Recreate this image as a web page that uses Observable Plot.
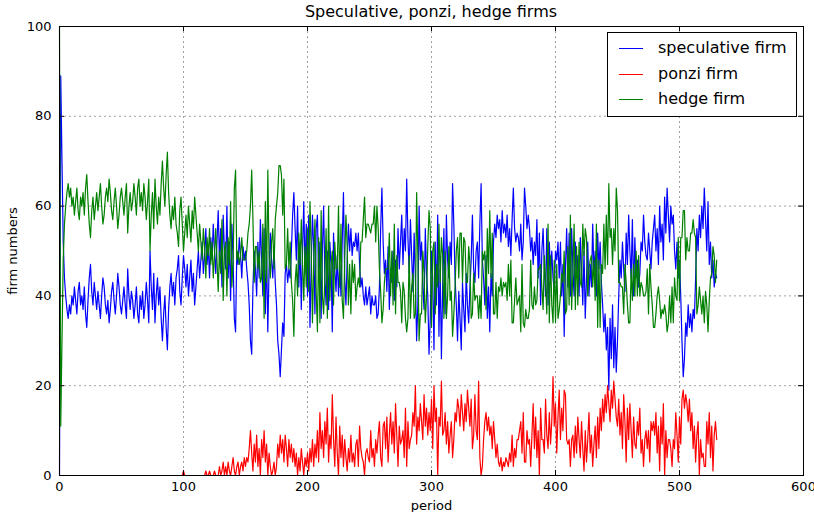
<!DOCTYPE html>
<html><head><meta charset="utf-8">
<script src="https://cdn.jsdelivr.net/npm/d3@7"></script>
<script src="https://cdn.jsdelivr.net/npm/@observablehq/plot@0.6"></script>
<style>
body{margin:0;background:#fff;font-family:"DejaVu Sans",sans-serif;}
#wrap{position:relative;width:814px;height:512px;overflow:hidden;}
#wrap svg{position:absolute;left:0;top:0;}
#title{position:absolute;left:59px;width:744px;top:2px;text-align:center;font-size:16px;line-height:20px;color:#000;}
#legend{position:absolute;left:607px;top:32px;width:188px;height:83px;border:1px solid #000;background:#fff;}
.row{position:absolute;left:0;height:20px;width:188px;}
.row .ln{position:absolute;left:11px;width:24px;top:10px;height:0;border-top:1.2px solid;}
.row .tx{position:absolute;left:50px;top:0;line-height:20px;font-size:16px;color:#000;white-space:nowrap;}
</style>
</head><body>
<div id="wrap">
<div id="title"></div>
<div id="legend"></div>
</div>
<script>
const titleText = "Speculative, ponzi, hedge firms";
const xLabel = "period";
const yLabel = "firm numbers";
const seriesNames = ["speculative firm", "ponzi firm", "hedge firm"];
const seriesColors = ["#0000ff", "#ff0000", "#008000"];
const xTicks = [0, 100, 200, 300, 400, 500, 600];
const yTicks = [0, 20, 40, 60, 80, 100];

const speculative = [
0,89,70,52,44,40,37,35,38,36,
40,38,42,39,36,41,43,38,40,37,
42,36,33,39,44,47,41,38,43,40,
37,41,38,35,40,44,42,38,36,39,
34,37,41,43,39,36,40,45,42,38,
36,39,42,38,35,46,40,37,41,39,
35,38,42,36,34,40,37,41,35,38,
43,39,34,50,42,37,45,34,40,44,
38,42,35,30,36,40,33,28,37,42,
45,40,43,38,44,46,49,41,38,44,
49,46,42,47,40,44,48,41,45,38,
42,46,50,44,48,52,45,49,55,47,
51,44,53,48,56,50,45,52,59,48,
55,42,58,50,46,60,44,52,39,56,
48,35,32,50,47,53,49,44,51,48,
50,46,43,38,30,27,42,50,46,40,
52,44,57,48,40,55,36,50,32,46,
54,48,44,51,43,38,30,27,22,28,
34,31,45,47,43,46,44,50,58,63,
55,48,60,42,52,37,50,61,45,56,
40,58,33,47,58,51,36,55,58,44,
52,35,50,60,44,38,50,37,52,47,
32,54,46,41,49,40,47,40,52,63,
44,38,48,56,50,55,49,52,51,54,
50,54,47,42,44,40,38,42,38,40,
42,36,40,38,38,40,35,36,42,55,
64,52,45,48,41,51,37,46,43,50,
39,48,42,55,46,52,58,47,55,50,
66,53,45,57,49,41,54,44,30,38,
60,48,52,42,37,55,45,40,27,35,
50,44,28,52,38,58,31,46,26,42,
55,36,58,48,44,52,47,65,56,44,
38,30,41,35,28,43,37,32,45,38,
34,42,48,58,46,43,50,52,44,56,
65,48,44,38,49,35,42,32,45,40,
52,56,53,58,55,57,52,59,54,56,
53,58,51,55,49,57,64,55,52,54,
53,50,56,48,52,64,60,55,58,55,
50,53,47,52,49,57,44,54,38,50,
55,46,40,55,38,52,44,50,44,41,
50,48,52,44,52,40,47,31,46,55,
42,54,40,55,46,40,52,44,49,40,
53,46,38,50,35,44,52,40,47,42,
56,45,50,40,54,46,52,43,38,32,
36,28,33,19,35,26,38,24,33,23,
30,40,48,44,52,46,41,54,47,58,
50,44,57,40,53,44,48,42,45,52,
50,58,52,49,48,54,50,46,52,55,
58,50,55,47,60,52,56,48,62,54,
64,58,52,60,56,58,50,46,52,44,
48,40,30,22,26,34,31,38,33,36,
32,37,35,44,55,50,58,53,60,55,
64,57,50,61,47,52,44,48,42,45,
44];

const ponzi = [
0,0,0,0,0,0,0,0,0,0,
0,0,0,0,0,0,0,0,0,0,
0,0,0,0,0,0,0,0,0,0,
0,0,0,0,0,0,0,0,0,0,
0,0,0,0,0,0,0,0,0,0,
0,0,0,0,0,0,0,0,0,0,
0,0,0,0,0,0,0,0,0,0,
0,0,0,0,0,0,0,0,0,0,
0,0,0,0,0,0,0,0,0,0,
0,0,0,0,0,0,0,0,0,0,
1,0,0,0,0,0,0,0,0,0,
0,0,0,0,0,0,0,0,1,0,
0,1,0,0,0,1,0,0,0,2,
0,1,3,0,2,0,3,1,0,2,
4,1,0,2,3,0,2,3,1,4,
2,4,3,6,10,5,1,7,3,9,
2,6,0,8,4,10,3,7,0,5,
2,0,1,3,0,2,7,4,9,5,
8,3,9,6,2,8,4,7,3,6,
2,5,0,4,1,6,3,0,4,2,
5,1,6,3,8,2,7,4,10,3,
14,6,10,4,12,7,15,3,9,6,
18,8,2,13,5,0,11,4,9,2,
8,4,1,6,3,9,3,5,2,7,
8,2,11,6,4,3,0,5,6,4,
3,10,4,6,2,8,5,9,12,4,
2,11,12,6,13,3,9,14,7,12,
5,16,9,2,11,7,8,10,4,15,
2,12,6,8,9,14,11,20,7,13,
10,16,12,8,18,11,15,9,14,10,
17,6,20,12,15,0,13,11,21,9,
10,14,7,12,5,9,12,4,8,14,
12,17,15,11,18,14,10,16,12,19,
15,11,17,6,9,18,10,8,21,4,
0,2,8,12,14,10,13,9,11,6,
12,8,4,7,3,2,4,1,3,2,
4,3,2,5,3,9,2,6,4,8,
8,10,12,5,14,3,3,10,7,8,
2,9,16,6,13,4,10,0,15,8,
8,5,17,9,6,14,7,12,22,11,
16,5,13,19,8,15,10,19,18,8,
7,8,2,8,9,4,11,5,13,8,
4,12,6,1,10,3,8,14,5,9,
2,7,11,4,13,6,15,10,17,12,
18,14,20,16,12,19,15,21,17,13,
11,17,9,14,6,18,12,3,15,8,
16,10,4,13,7,6,12,9,15,5,
8,2,8,10,6,10,3,12,10,12,
9,14,5,11,1,13,7,16,0,10,
4,8,8,6,2,8,6,14,9,3,
13,7,17,19,15,18,16,12,17,10,
14,6,11,3,9,12,0,8,4,5,
2,2,12,7,14,4,11,1,9,12,
8];

const hedge = [
100,11,30,48,56,60,63,65,62,64,
60,62,58,61,64,59,57,62,60,63,
58,64,67,61,56,53,59,62,57,60,
63,59,62,65,60,56,58,62,64,61,
66,63,59,57,61,64,60,55,58,62,
64,61,58,62,65,54,60,63,59,61,
65,62,58,64,66,60,63,59,65,62,
57,61,66,50,58,63,55,66,60,56,
62,58,65,70,64,60,67,72,63,58,
55,60,57,62,56,54,51,59,62,56,
50,54,58,53,60,56,52,59,55,62,
58,54,50,56,52,48,55,51,44,53,
49,55,47,52,44,49,55,48,41,50,
45,57,39,50,52,40,53,47,61,42,
48,64,68,48,50,47,49,53,48,48,
48,50,54,56,60,68,57,43,51,51,
46,50,43,44,56,35,61,43,68,49,
44,52,55,46,57,60,63,69,69,67,
58,66,46,47,55,46,52,43,39,31,
43,47,40,54,47,57,47,39,51,42,
55,41,61,50,34,47,57,41,32,53,
34,59,40,36,44,55,35,60,39,47,
50,38,52,46,46,60,42,56,39,35,
48,58,51,38,47,36,48,43,47,39,
42,44,42,52,52,57,62,53,56,56,
55,54,56,56,60,52,60,55,46,41,
34,37,43,46,46,46,54,40,50,38,
56,36,49,43,43,41,34,43,41,35,
32,35,49,35,42,45,35,36,63,49,
30,36,36,50,45,34,40,51,59,55,
33,50,52,36,47,42,56,43,53,49,
35,50,35,40,51,39,41,31,36,42,
50,53,44,54,54,43,53,52,43,43,
51,47,35,36,45,39,40,40,35,40,
35,50,48,50,37,55,45,59,44,54,
36,36,43,35,42,41,44,40,43,42,
43,39,47,40,48,34,34,39,44,38,
39,40,32,47,34,33,37,35,35,37,
48,38,37,42,38,39,46,46,47,42,
37,49,43,36,56,34,49,38,34,48,
34,47,35,37,40,45,43,50,36,37,
51,38,58,37,45,56,37,51,38,52,
43,42,56,49,55,53,40,46,48,49,
42,48,39,56,33,48,33,47,45,56,
46,58,47,65,53,55,47,55,50,64,
59,43,43,42,42,36,47,43,38,34,
34,46,39,47,40,50,40,49,40,43,
42,40,40,41,46,36,47,42,38,33,
33,36,40,42,39,35,37,36,38,36,
32,34,40,34,42,34,44,40,39,53,
39,53,53,59,59,48,53,50,50,54,
54,57,54,53,36,38,42,39,36,40,
34,41,38,32,39,44,45,51,49,43,
48];

const seriesData = [speculative, ponzi, hedge];

const plotW = 814 - 59 - 11;
const plotH = 512 - 26 - 37;
const tickLen = 5;

const chart = Plot.plot({
  width: 814,
  height: 512,
  marginLeft: 59,
  marginRight: 11,
  marginTop: 26,
  marginBottom: 37,
  style: {fontFamily: "'DejaVu Sans', sans-serif", fontSize: "13px", background: "#fff", color: "#000", overflow: "visible"},
  x: {domain: [0, 600], ticks: xTicks, tickSize: 0, tickPadding: 6, tickFormat: d => String(d),
      label: xLabel, labelAnchor: "center", labelOffset: 34, labelArrow: "none"},
  y: {domain: [0, 100], ticks: yTicks, tickSize: 0, tickPadding: 8, tickFormat: d => String(d),
      label: yLabel, labelAnchor: "center", labelOffset: 52, labelArrow: "none"},
  marks: [
    Plot.ruleX(xTicks.slice(1, -1), {x: d => d, stroke: "#a0a0a0", strokeWidth: 1, strokeDasharray: "2,3"}),
    Plot.ruleY(yTicks.slice(1, -1), {y: d => d, stroke: "#a0a0a0", strokeWidth: 1, strokeDasharray: "2,3"}),
    ...seriesData.map((arr, k) => Plot.lineY(arr, {x: (d, i) => i, y: d => d, stroke: seriesColors[k], strokeWidth: 1.2})),
    Plot.tickX(xTicks, {x: d => d, insetTop: plotH - tickLen, stroke: "#000"}),
    Plot.tickX(xTicks, {x: d => d, insetBottom: plotH - tickLen, stroke: "#000"}),
    Plot.tickY(yTicks, {y: d => d, insetRight: plotW - tickLen, stroke: "#000"}),
    Plot.tickY(yTicks, {y: d => d, insetLeft: plotW - tickLen, stroke: "#000"}),
    Plot.frame({stroke: "#000", strokeWidth: 1})
  ]
});
document.getElementById("wrap").insertBefore(chart, document.getElementById("title"));
document.getElementById("title").textContent = titleText;

const leg = document.getElementById("legend");
const rowTops = [5, 31, 56];
seriesNames.forEach((name, k) => {
  const row = document.createElement("div");
  row.className = "row";
  row.style.top = rowTops[k] + "px";
  const ln = document.createElement("span");
  ln.className = "ln";
  ln.style.borderTopColor = seriesColors[k];
  const tx = document.createElement("span");
  tx.className = "tx";
  tx.textContent = name;
  row.appendChild(ln);
  row.appendChild(tx);
  leg.appendChild(row);
});
</script>
</body></html>
